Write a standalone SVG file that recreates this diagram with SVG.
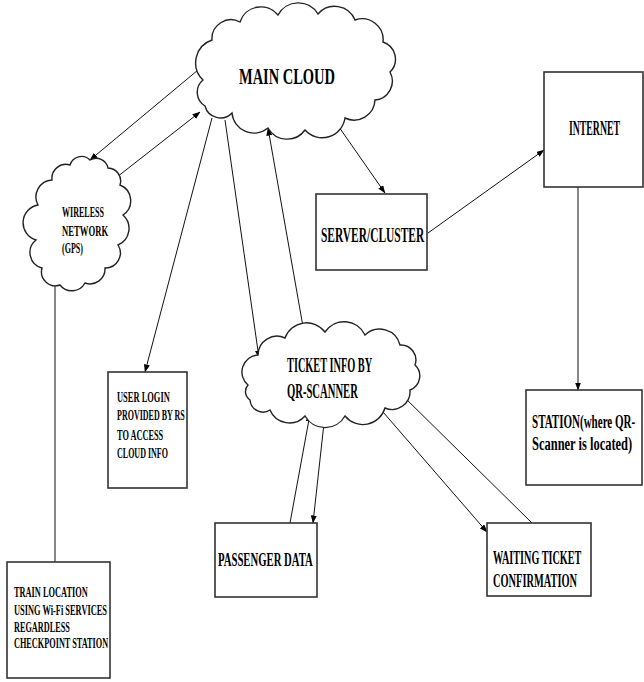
<svg xmlns="http://www.w3.org/2000/svg" width="644" height="682" viewBox="0 0 644 682">
<defs>
<marker id="ah" markerWidth="8" markerHeight="6" refX="7.5" refY="3" orient="auto" markerUnits="userSpaceOnUse">
<path d="M0,0 L8,3 L0,6 z" fill="#000"/>
</marker>
<style>
.box{fill:#fff;stroke:#333;stroke-width:1.6}
.cloud{fill:#fff;stroke:#222;stroke-width:1.4}
.ln{stroke:#111;stroke-width:1;fill:none}
.t{font-family:"Liberation Serif","Times New Roman",serif;font-weight:bold;fill:#000}
</style>
</defs>
<rect width="644" height="682" fill="#fff"/>
<g id="connectors">
<line class="ln" x1="198" y1="70" x2="90" y2="160" marker-end="url(#ah)"/>
<line class="ln" x1="117" y1="177" x2="200" y2="112" marker-end="url(#ah)"/>
<line class="ln" x1="212" y1="118" x2="145" y2="372" marker-end="url(#ah)"/>
<line class="ln" x1="225" y1="120" x2="259" y2="358" marker-end="url(#ah)"/>
<line class="ln" x1="305" y1="338" x2="268" y2="128" marker-end="url(#ah)"/>
<line class="ln" x1="332" y1="117" x2="385" y2="193" marker-end="url(#ah)"/>
<line class="ln" x1="428" y1="233" x2="544" y2="150" marker-end="url(#ah)"/>
<line class="ln" x1="578" y1="187" x2="578" y2="390" marker-end="url(#ah)"/>
<line class="ln" x1="55" y1="285" x2="55" y2="562"/>
<line class="ln" x1="290" y1="523" x2="310" y2="414" marker-end="url(#ah)"/>
<line class="ln" x1="325" y1="414" x2="313" y2="523" marker-end="url(#ah)"/>
<line class="ln" x1="532" y1="523" x2="400" y2="393" marker-end="url(#ah)"/>
<line class="ln" x1="383" y1="412" x2="487" y2="532" marker-end="url(#ah)"/>
</g>
<g id="main-cloud">
<path class="cloud" d="M203,80 A24,24 0 0 1 212,40 A19,19 0 0 1 240,22 A22,22 0 0 1 278,15 A23,23 0 0 1 318,14 A22,22 0 0 1 355,20 A21,21 0 0 1 383,42 A18,18 0 0 1 390,72 A19,19 0 0 1 375,100 A21,21 0 0 1 345,118 A23,23 0 0 1 305,130 A22,22 0 0 1 268,128 A22,22 0 0 1 232,113 A16,16 0 0 1 205,106 A16,16 0 0 1 203,80 Z"/>
<text class="t" transform="translate(239,84) scale(0.6,1)" font-size="24" textLength="160" lengthAdjust="spacingAndGlyphs">MAIN CLOUD</text>
</g>
<g id="wireless-network">
<path class="cloud" d="M36,240 A18,18 0 0 1 38,205 A17,17 0 0 1 52,180 A14,14 0 0 1 70,165 A12,12 0 0 1 90,160 A12,12 0 0 1 108,168 A13,13 0 0 1 120,185 A17,17 0 0 1 123,215 A18,18 0 0 1 118,245 A15,15 0 0 1 105,268 A15,15 0 0 1 85,283 A15,15 0 0 1 60,285 A14,14 0 0 1 42,268 A16,16 0 0 1 36,240 Z"/>
<text class="t" transform="translate(62,217) scale(0.6,1)" font-size="14" textLength="70" lengthAdjust="spacingAndGlyphs">WIRELESS</text>
<text class="t" transform="translate(62,236) scale(0.6,1)" font-size="14" textLength="77" lengthAdjust="spacingAndGlyphs">NETWORK</text>
<text class="t" transform="translate(62,253) scale(0.6,1)" font-size="14" textLength="35" lengthAdjust="spacingAndGlyphs">(GPS)</text>
</g>
<g id="server-cluster">
<rect class="box" x="316" y="194" width="111" height="76"/>
<text class="t" transform="translate(321,242) scale(0.6,1)" font-size="20" textLength="172" lengthAdjust="spacingAndGlyphs">SERVER/CLUSTER</text>
</g>
<g id="internet">
<rect class="box" x="544" y="72" width="99" height="115"/>
<text class="t" transform="translate(569,135) scale(0.6,1)" font-size="20" textLength="85" lengthAdjust="spacingAndGlyphs">INTERNET</text>
</g>
<g id="user-login">
<rect class="box" x="108" y="372" width="79" height="116"/>
<text class="t" transform="translate(117,402) scale(0.6,1)" font-size="14" textLength="88" lengthAdjust="spacingAndGlyphs">USER LOGIN</text>
<text class="t" transform="translate(117,420) scale(0.6,1)" font-size="14" textLength="113" lengthAdjust="spacingAndGlyphs">PROVIDED BY RS</text>
<text class="t" transform="translate(117,440) scale(0.6,1)" font-size="14" textLength="77" lengthAdjust="spacingAndGlyphs">TO ACCESS</text>
<text class="t" transform="translate(117,458) scale(0.6,1)" font-size="14" textLength="85" lengthAdjust="spacingAndGlyphs">CLOUD INFO</text>
</g>
<g id="ticket-info">
<path class="cloud" d="M248,385 A17,17 0 0 1 258,355 A19,19 0 0 1 285,338 A23,23 0 0 1 325,332 A23,23 0 0 1 365,335 A21,21 0 0 1 400,345 A15,15 0 0 1 415,365 A15,15 0 0 1 410,390 A18,18 0 0 1 385,408 A23,23 0 0 1 345,416 A23,23 0 0 1 305,416 A21,21 0 0 1 270,410 A13,13 0 0 1 250,400 A10,10 0 0 1 248,385 Z"/>
<text class="t" transform="translate(287,372) scale(0.6,1)" font-size="20" textLength="142" lengthAdjust="spacingAndGlyphs">TICKET INFO BY</text>
<text class="t" transform="translate(287,398) scale(0.6,1)" font-size="20" textLength="118" lengthAdjust="spacingAndGlyphs">QR-SCANNER</text>
</g>
<g id="station">
<rect class="box" x="526" y="390" width="116" height="95"/>
<text class="t" transform="translate(532,428) scale(0.6,1)" font-size="19" textLength="172" lengthAdjust="spacingAndGlyphs">STATION(where QR-</text>
<text class="t" transform="translate(532,450) scale(0.6,1)" font-size="19" textLength="167" lengthAdjust="spacingAndGlyphs">Scanner is located)</text>
</g>
<g id="passenger-data">
<rect class="box" x="215" y="523" width="102" height="74"/>
<text class="t" transform="translate(218,566) scale(0.6,1)" font-size="19" textLength="158" lengthAdjust="spacingAndGlyphs">PASSENGER DATA</text>
</g>
<g id="waiting-ticket">
<rect class="box" x="487" y="523" width="104" height="73"/>
<text class="t" transform="translate(493,564) scale(0.6,1)" font-size="19" textLength="147" lengthAdjust="spacingAndGlyphs">WAITING TICKET</text>
<text class="t" transform="translate(493,587) scale(0.6,1)" font-size="19" textLength="140" lengthAdjust="spacingAndGlyphs">CONFIRMATION</text>
</g>
<g id="train-location">
<rect class="box" x="7" y="562" width="103" height="116"/>
<text class="t" transform="translate(14,597) scale(0.6,1)" font-size="14" textLength="123" lengthAdjust="spacingAndGlyphs">TRAIN LOCATION</text>
<text class="t" transform="translate(14,615) scale(0.6,1)" font-size="14" textLength="155" lengthAdjust="spacingAndGlyphs">USING Wi-Fi SERVICES</text>
<text class="t" transform="translate(14,632) scale(0.6,1)" font-size="14" textLength="93" lengthAdjust="spacingAndGlyphs">REGARDLESS</text>
<text class="t" transform="translate(14,648) scale(0.6,1)" font-size="14" textLength="157" lengthAdjust="spacingAndGlyphs">CHECKPOINT STATION</text>
</g>
</svg>
